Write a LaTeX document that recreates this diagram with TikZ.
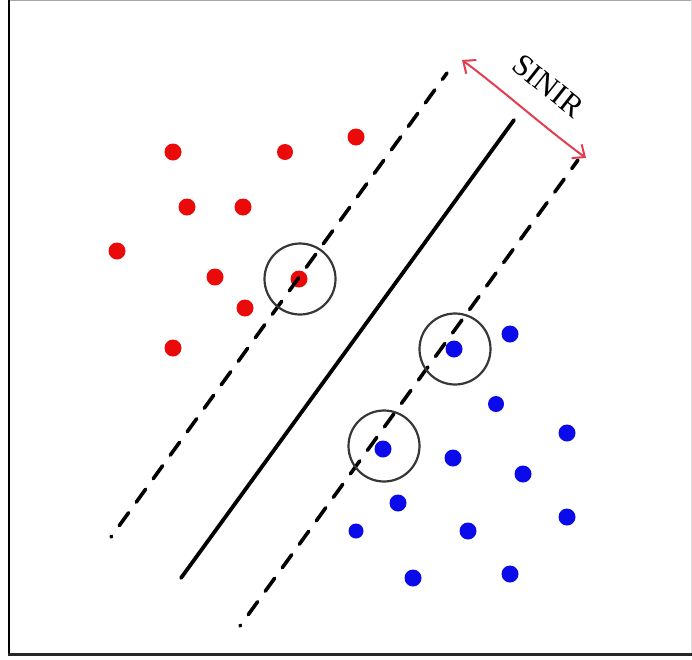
\documentclass[tikz,border=0pt]{standalone}
\usepackage{fontspec}
\setmainfont{Liberation Serif}
\usetikzlibrary{arrows.meta}
\definecolor{dotred}{RGB}{235,10,10}
\definecolor{dotblue}{RGB}{10,10,235}
\definecolor{arrred}{RGB}{228,60,80}
\definecolor{ringgray}{RGB}{55,55,55}
\begin{document}
\begin{tikzpicture}[x=1pt,y=-1pt,
  rdot/.style={circle,fill=dotred,inner sep=0pt,minimum size=17pt},
  bdot/.style={circle,fill=dotblue,inner sep=0pt,minimum size=17pt},
  ring/.style={circle,draw=ringgray,line width=2.2pt,inner sep=0pt,minimum size=71pt},
  margin/.style={line width=3.6pt,line cap=round,dash pattern=on 16pt off 13pt,dash phase=15pt},
  hyper/.style={line width=3.8pt,line cap=round},
  gap/.style={arrred,line width=2pt,{Straight Barb[length=10pt,width=17pt]}-{Straight Barb[length=10pt,width=17pt]}}]
\useasboundingbox (0,0) rectangle (692,659);
% frame
\draw[gray!70,line width=1pt] (9,0.5) -- (692,0.5);
\draw[gray!25,line width=0.8pt] (691.5,0) -- (691.5,655);
\draw[black,line width=2.6pt] (9,0) -- (9,655);
\draw[black!85,line width=2.2pt] (8,654.5) -- (692,654.5);
% red points
\node[rdot] (r1) at (173,152) {};
\node[rdot,minimum size=16pt] (r2) at (285,152) {};
\node[rdot] (r3) at (356,137) {};
\node[rdot] (r4) at (187,207) {};
\node[rdot] (r5) at (243,207) {};
\node[rdot] (r6) at (117,251) {};
\node[rdot] (r7) at (215,277) {};
\node[rdot] (r8) at (299,279) {};
\node[rdot] (r9) at (245,308) {};
\node[rdot] (r10) at (173,348) {};
% blue points
\node[bdot] (b1) at (454,349) {};
\node[bdot] (b2) at (510,334) {};
\node[bdot,minimum size=16pt] (b3) at (496,404) {};
\node[bdot] (b4) at (567,433) {};
\node[bdot] (b5) at (383,449) {};
\node[bdot] (b6) at (453,458) {};
\node[bdot] (b7) at (523,474) {};
\node[bdot] (b8) at (398,503) {};
\node[bdot] (b9) at (567,517) {};
\node[bdot,minimum size=15pt] (b10) at (356,531) {};
\node[bdot] (b11) at (468,531) {};
\node[bdot] (b12) at (413,578) {};
\node[bdot] (b13) at (510,574) {};
% lines
\coordinate (mA1) at (111,537);
\coordinate (mA2) at (447,73);
\coordinate (h1) at (181,578);
\coordinate (h2) at (514,120);
\coordinate (mB1) at (240,626);
\coordinate (mB2) at (578,160);
\draw[margin] (mA1) -- (mA2);
\draw[hyper] (h1) -- (h2);
\draw[margin] (mB1) -- (mB2);
% support vector rings
\node[ring] (c1) at (300,279) {};
\node[ring] (c2) at (455,349) {};
\node[ring] (c3) at (384,446) {};
% margin arrow
\coordinate (a1) at (462,60);
\coordinate (a2) at (586,158);
\draw[gap] (a1) .. controls (500,88) and (545,128) .. (a2);
\node[rotate=-38.5,font=\fontsize{31}{31}\selectfont,inner sep=0pt] (lbl) at (548,86) {SINIR};
\end{tikzpicture}
\end{document}
